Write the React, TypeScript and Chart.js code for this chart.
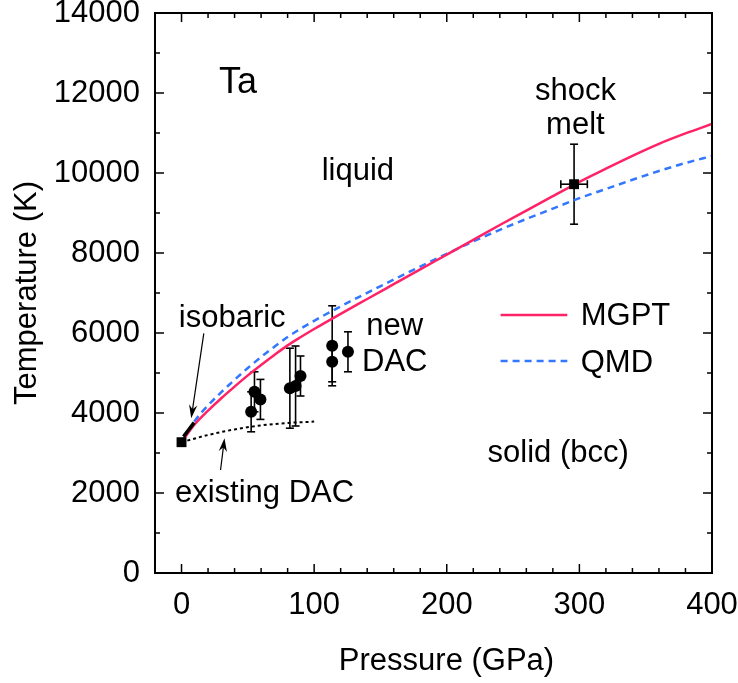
import React, { useEffect, useRef } from "react";
import { Chart, registerables } from "chart.js";

Chart.register(...registerables);

// Melting curves of tantalum (pressure in GPa, temperature in K)
const CURVE_P = [0, 10, 20, 30, 40, 50, 60, 70, 80, 90, 100, 120, 140, 160, 180, 200, 220, 240, 260, 280, 300, 320, 340, 360, 380, 400];
const MGPT_T = [3270, 3720, 4060, 4370, 4660, 4940, 5200, 5450, 5690, 5900, 6100, 6480, 6850, 7220, 7590, 7960, 8330, 8700, 9060, 9420, 9780, 10110, 10430, 10730, 10990, 11225];
const QMD_T = [3270, 3800, 4190, 4520, 4830, 5125, 5400, 5655, 5900, 6110, 6305, 6665, 7005, 7335, 7660, 7980, 8290, 8580, 8850, 9110, 9370, 9600, 9830, 10050, 10250, 10425];

// Earlier diamond-anvil-cell melt line
const OLD_DAC_P = [0, 20, 40, 60, 80, 100];
const OLD_DAC_T = [3270, 3450, 3590, 3690, 3750, 3785];

// Isobaric measurement segment near ambient pressure
const ISOBARIC_P = [1.5, 9.5];
const ISOBARIC_T = [3410, 3760];

// New diamond-anvil-cell melt points with temperature uncertainties
const NEW_DAC_P = [52.5, 55, 59.5, 81.7, 86, 89.7, 113.6, 113.6, 125.5];
const NEW_DAC_T = [4030, 4530, 4340, 4620, 4675, 4925, 5680, 5280, 5530];
const NEW_DAC_ERR = [500, 500, 500, 1000, 1000, 500, 1000, 500, 500];

// Ambient melting point and shock melting point
const AMBIENT_P = [0];
const AMBIENT_T = [3270];
const SHOCK_P = [296];
const SHOCK_T = [9720];
const SHOCK_P_ERR = [10];
const SHOCK_T_ERR = [1000];

// Axis ticks
const X_TICKS = [0, 100, 200, 300, 400];
const X_MINOR = [20, 40, 60, 80, 120, 140, 160, 180, 220, 240, 260, 280, 320, 340, 360, 380];
const Y_TICKS = [0, 2000, 4000, 6000, 8000, 10000, 12000, 14000];
const Y_MINOR = [1000, 3000, 5000, 7000, 9000, 11000, 13000];

const X_TITLE = "Pressure (GPa)";
const Y_TITLE = "Temperature (K)";

const FONT = '"Liberation Sans", Arial, Helvetica, sans-serif';
const TEXT_SIZE = 31;
const PINK = "#ff2266";
const BLUE = "#3377ff";

const pts = (xs: number[], ys: number[]) => xs.map((x, i) => ({ x, y: ys[i] }));

function arrow(ctx: CanvasRenderingContext2D, x0: number, y0: number, x1: number, y1: number) {
  const a = Math.atan2(y1 - y0, x1 - x0);
  const len = 14;
  const half = 0.3;
  ctx.beginPath();
  ctx.moveTo(x0, y0);
  ctx.lineTo(x1 - Math.cos(a) * 8, y1 - Math.sin(a) * 8);
  ctx.stroke();
  ctx.beginPath();
  ctx.moveTo(x1, y1);
  ctx.lineTo(x1 - len * Math.cos(a - half), y1 - len * Math.sin(a - half));
  ctx.lineTo(x1 - 9 * Math.cos(a), y1 - 9 * Math.sin(a));
  ctx.lineTo(x1 - len * Math.cos(a + half), y1 - len * Math.sin(a + half));
  ctx.closePath();
  ctx.fill();
}

const overlay = {
  id: "overlay",
  beforeDatasetsDraw(chart: any) {
    const { ctx, scales } = chart;
    const x = scales.x;
    const y = scales.y;
    const cap = 4;
    ctx.save();
    ctx.strokeStyle = "#000";
    ctx.lineWidth = 1.6;
    const seg = (a: number, b: number, c: number, d: number) => {
      ctx.beginPath();
      ctx.moveTo(a, b);
      ctx.lineTo(c, d);
      ctx.stroke();
    };
    NEW_DAC_P.forEach((p, i) => {
      const px = x.getPixelForValue(p);
      const top = y.getPixelForValue(NEW_DAC_T[i] + NEW_DAC_ERR[i]);
      const bot = y.getPixelForValue(NEW_DAC_T[i] - NEW_DAC_ERR[i]);
      seg(px, top, px, bot);
      seg(px - cap, top, px + cap, top);
      seg(px - cap, bot, px + cap, bot);
    });
    SHOCK_P.forEach((p, i) => {
      const px = x.getPixelForValue(p);
      const py = y.getPixelForValue(SHOCK_T[i]);
      const top = y.getPixelForValue(SHOCK_T[i] + SHOCK_T_ERR[i]);
      const bot = y.getPixelForValue(SHOCK_T[i] - SHOCK_T_ERR[i]);
      const l = x.getPixelForValue(p - SHOCK_P_ERR[i]);
      const r = x.getPixelForValue(p + SHOCK_P_ERR[i]);
      seg(px, top, px, bot);
      seg(px - cap, top, px + cap, top);
      seg(px - cap, bot, px + cap, bot);
      seg(l, py, r, py);
      seg(l, py - cap, l, py + cap);
      seg(r, py - cap, r, py + cap);
    });
    ctx.restore();
  },
  afterDraw(chart: any) {
    const { ctx, chartArea, scales } = chart;
    const x = scales.x;
    const y = scales.y;
    const { left, right, top, bottom } = chartArea;
    ctx.save();

    // frame
    ctx.strokeStyle = "#000";
    ctx.lineWidth = 2;
    ctx.strokeRect(left, top, right - left, bottom - top);

    // inward ticks on all four sides
    ctx.lineWidth = 1.5;
    const tick = (a: number, b: number, c: number, d: number) => {
      ctx.beginPath();
      ctx.moveTo(a, b);
      ctx.lineTo(c, d);
      ctx.stroke();
    };
    X_TICKS.forEach((v) => {
      const px = x.getPixelForValue(v);
      tick(px, bottom, px, bottom - 9);
      tick(px, top, px, top + 9);
    });
    X_MINOR.forEach((v) => {
      const px = x.getPixelForValue(v);
      tick(px, bottom, px, bottom - 5);
      tick(px, top, px, top + 5);
    });
    Y_TICKS.forEach((v) => {
      const py = y.getPixelForValue(v);
      tick(left, py, left + 9, py);
      tick(right, py, right - 9, py);
    });
    Y_MINOR.forEach((v) => {
      const py = y.getPixelForValue(v);
      tick(left, py, left + 5, py);
      tick(right, py, right - 5, py);
    });

    ctx.fillStyle = "#000";
    ctx.font = `${TEXT_SIZE}px ${FONT}`;

    // x-axis title, set slightly right of the plot centre
    ctx.textAlign = "center";
    ctx.textBaseline = "middle";
    ctx.fillText(X_TITLE, (left + right) / 2 + 13, 661);

    // annotations
    const X = (v: number) => x.getPixelForValue(v);
    const Y = (v: number) => y.getPixelForValue(v);
    ctx.textBaseline = "alphabetic";
    ctx.font = `36px ${FONT}`;
    ctx.fillText("Ta", X(42.6), Y(12000));
    ctx.font = `${TEXT_SIZE}px ${FONT}`;
    ctx.fillText("liquid", X(133), Y(9825));
    ctx.fillText("shock", X(297), Y(11825));
    ctx.fillText("melt", X(297), Y(10975));
    ctx.fillText("isobaric", X(38.2), Y(6160));
    ctx.fillText("new", X(160.8), Y(5950));
    ctx.fillText("DAC", X(160.8), Y(5060));
    ctx.fillText("existing DAC", X(62.6), Y(1785));
    ctx.fillText("solid (bcc)", X(284), Y(2775));

    // legend
    ctx.textAlign = "left";
    ctx.fillText("MGPT", X(301), Y(6200));
    ctx.fillText("QMD", X(301), Y(5035));
    ctx.lineWidth = 2.5;
    ctx.strokeStyle = PINK;
    tick(X(240.6), Y(6450), X(290.9), Y(6450));
    ctx.strokeStyle = BLUE;
    ctx.setLineDash([7, 5]);
    tick(X(240.6), Y(5300), X(290.9), Y(5300));
    ctx.setLineDash([]);

    // arrows
    ctx.strokeStyle = "#000";
    ctx.lineWidth = 1.2;
    arrow(ctx, X(16.8), Y(5990), X(7.3), Y(3870));
    arrow(ctx, X(29.4), Y(2575), X(32.4), Y(3370));

    ctx.restore();
  },
};

export default function App() {
  const ref = useRef<HTMLCanvasElement | null>(null);

  useEffect(() => {
    if (!ref.current) return;
    const tickFont = { family: FONT, size: TEXT_SIZE, lineHeight: 1.2 };
    const plain = (v: any) => String(v);
    const chart = new Chart(ref.current, {
      type: "scatter",
      data: {
        datasets: [
          {
            label: "ambient",
            data: pts(AMBIENT_P, AMBIENT_T),
            pointStyle: "rect",
            pointRadius: 7,
            backgroundColor: "#000",
            borderWidth: 0,
            order: 0,
          },
          {
            label: "shock",
            data: pts(SHOCK_P, SHOCK_T),
            pointStyle: "rect",
            pointRadius: 7,
            backgroundColor: "#000",
            borderWidth: 0,
            order: 0,
          },
          {
            label: "new DAC",
            data: pts(NEW_DAC_P, NEW_DAC_T),
            pointStyle: "circle",
            pointRadius: 6,
            backgroundColor: "#000",
            borderWidth: 0,
            order: 1,
          },
          {
            label: "isobaric",
            data: pts(ISOBARIC_P, ISOBARIC_T),
            showLine: true,
            pointRadius: 0,
            borderColor: "#000",
            borderWidth: 3.5,
            order: 2,
          },
          {
            label: "MGPT",
            data: pts(CURVE_P, MGPT_T),
            showLine: true,
            pointRadius: 0,
            borderColor: PINK,
            borderWidth: 2.5,
            cubicInterpolationMode: "monotone",
            order: 3,
          },
          {
            label: "QMD",
            data: pts(CURVE_P, QMD_T),
            showLine: true,
            pointRadius: 0,
            borderColor: BLUE,
            borderWidth: 2.5,
            borderDash: [7, 5],
            cubicInterpolationMode: "monotone",
            order: 4,
          },
          {
            label: "existing DAC",
            data: pts(OLD_DAC_P, OLD_DAC_T),
            showLine: true,
            pointRadius: 0,
            borderColor: "#000",
            borderWidth: 2,
            borderDash: [3, 3],
            cubicInterpolationMode: "monotone",
            order: 5,
          },
        ],
      },
      options: {
        animation: false,
        responsive: false,
        devicePixelRatio: 1,
        layout: { padding: { top: 13, right: 26, left: 0, bottom: 0 } },
        plugins: { legend: { display: false }, tooltip: { enabled: false } },
        scales: {
          x: {
            type: "linear",
            min: -20,
            max: 400,
            grid: { display: false },
            border: { display: false },
            afterBuildTicks: (s: any) => {
              s.ticks = X_TICKS.map((v) => ({ value: v }));
            },
            afterFit: (s: any) => {
              s.height = 110;
              s.paddingLeft = 0;
              s.paddingRight = 0;
            },
            ticks: { font: tickFont, color: "#000", padding: 6, maxRotation: 0, autoSkip: false, callback: plain },
            title: { display: false },
          },
          y: {
            type: "linear",
            min: 0,
            max: 14000,
            grid: { display: false },
            border: { display: false },
            afterBuildTicks: (s: any) => {
              s.ticks = Y_TICKS.map((v) => ({ value: v }));
            },
            afterFit: (s: any) => {
              s.width = 155;
              s.paddingTop = 0;
              s.paddingBottom = 0;
            },
            ticks: { font: tickFont, color: "#000", padding: 7, autoSkip: false, callback: plain },
            title: {
              display: true,
              text: Y_TITLE,
              color: "#000",
              font: { family: FONT, size: TEXT_SIZE, lineHeight: 1.2 },
              padding: { top: 9, bottom: 0 },
            },
          },
        },
      },
      plugins: [overlay],
    } as any);
    return () => chart.destroy();
  }, []);

  return (
    <div style={{ position: "absolute", left: 0, top: 0, width: 738, height: 683, background: "#fff" }}>
      <canvas ref={ref} width={738} height={683} />
    </div>
  );
}
